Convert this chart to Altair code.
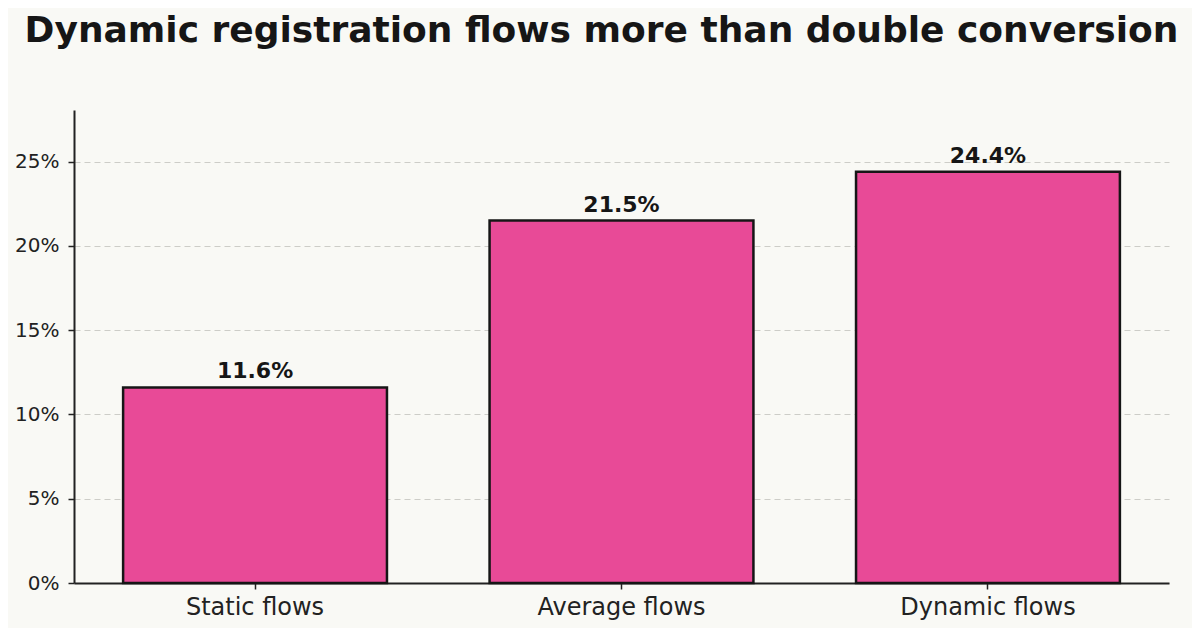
import altair as alt
import pandas as pd

# Values
categories = ["Static flows", "Average flows", "Dynamic flows"]
conversion = [11.6, 21.5, 24.4]
labels = ["11.6%", "21.5%", "24.4%"]
y_ticks = [0, 5, 10, 15, 20, 25]

bg = "#F9F9F5"
pink = "#E84A97"
ink = "#161616"
font = "DejaVu Sans"

df = pd.DataFrame({"flow": categories, "rate": conversion, "label": labels})

x_enc = alt.X(
    "flow:N",
    sort=categories,
    title=None,
    scale=alt.Scale(paddingInner=0.28, paddingOuter=0.134),
    axis=alt.Axis(
        labelAngle=0,
        labelFontSize=24,
        labelColor="#222222",
        labelPadding=6,
        tickSize=6,
        tickWidth=1.5,
        tickColor="#222222",
        domainColor="#222222",
        domainWidth=2,
        grid=False,
    ),
)

bars = alt.Chart(df).mark_bar(
    color=pink, stroke=ink, strokeWidth=2.5
).encode(
    x=x_enc,
    y=alt.Y(
        "rate:Q",
        title=None,
        scale=alt.Scale(domain=[0, 28.06], nice=False),
        axis=alt.Axis(
            values=y_ticks,
            labelExpr="datum.value + '%'",
            labelFontSize=20,
            labelColor="#222222",
            labelPadding=9,
            tickSize=6,
            tickWidth=1.5,
            tickColor="#222222",
            domainColor="#222222",
            domainWidth=2,
            grid=True,
            gridColor="#CDCDC8",
            gridDash=[6, 4],
            gridWidth=1.1,
        ),
    ),
)

text = alt.Chart(df).mark_text(
    baseline="alphabetic", dy=-9, fontSize=22, fontWeight="bold", color=ink, font=font
).encode(
    x=alt.X("flow:N", sort=categories),
    y="rate:Q",
    text="label:N",
)

chart = (bars + text).properties(
    width=1095,
    height=473,
    autosize=alt.AutoSizeParams(type="none"),
    padding={"left": 66, "top": 102, "right": 23, "bottom": 45},
    background=bg,
    title=alt.TitleParams(
        "Dynamic registration flows more than double conversion",
        fontSize=36,
        fontWeight="bold",
        font=font,
        color=ink,
        anchor="middle",
        baseline="alphabetic",
        offset=32,
        dx=-20,
    ),
).configure_view(
    stroke=None
).configure_axis(
    labelFont=font
)

chart.save("out.html", embed_options={"renderer": "svg", "actions": False})
